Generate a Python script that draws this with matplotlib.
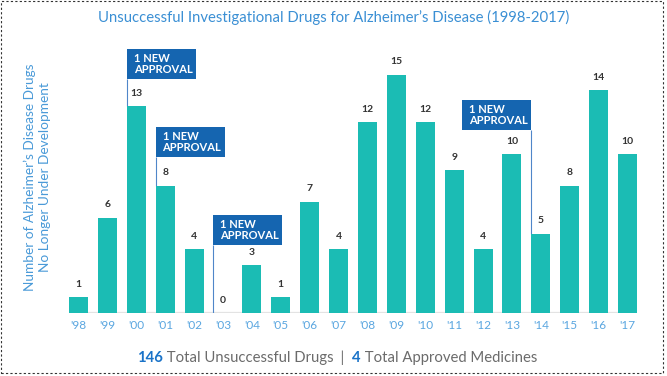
import matplotlib
matplotlib.use("Agg")
import matplotlib.pyplot as plt
from matplotlib.patches import Rectangle

years = ["'98", "'99", "'00", "'01", "'02", "'03", "'04", "'05", "'06", "'07",
         "'08", "'09", "'10", "'11", "'12", "'13", "'14", "'15", "'16", "'17"]
values = [1, 6, 13, 8, 4, 0, 3, 1, 7, 4, 12, 15, 12, 9, 4, 10, 5, 8, 14, 10]
# approval annotations: (bar index, box bottom, box top, side)
approvals = [(2, 14.7, 16.6, "left"), (3, 9.8, 11.7, "left"),
             (5, 4.3, 6.15, "left"), (16, 11.5, 13.4, "right")]
approval_text = "1 NEW\nAPPROVAL"
title = "Unsuccessful Investigational Drugs for Alzheimer\u2019s Disease (1998-2017)"
ylabel = "Number of Alzheimer\u2019s Disease Drugs\nNo Longer Under Development"
footer = [("146", "bold", "#1a73c8"), (" Total Unsuccessful Drugs", "normal", "#6b6b6b"),
          ("  |  ", "normal", "#6b6b6b"), ("4", "bold", "#1a73c8"),
          (" Total Approved Medicines", "normal", "#6b6b6b")]

plt.rcParams['font.family'] = ['Lato', 'DejaVu Sans']

W, H = 667, 376
fig = plt.figure(figsize=(W / 100, H / 100), dpi=100)
ax = fig.add_axes([64 / W, 63 / H, (642 - 64) / W, (313 - 40) / H])

bar_w = 0.66
teal = "#1bbcb4"
x = list(range(len(years)))
ax.bar(x, values, width=bar_w, color=teal, zorder=2)
ax.set_xlim(-0.5, len(years) - 0.5)
ax.set_ylim(0, 17.17)
ax.hlines(0, -bar_w / 2, len(years) - 1 + bar_w / 2, color="#e3e3e3", lw=1.6, zorder=1)

for xi, v in zip(x, values):
    ax.annotate(str(v), (xi, v), xytext=(0, 6), textcoords="offset points",
                ha="center", va="bottom", fontsize=7.5, fontweight="bold", color="#333333")

box_w = 2.39
for idx, y0, y1, side in approvals:
    lx = idx - bar_w / 2
    bx = lx if side == "left" else lx - box_w
    ax.vlines(lx, values[idx], y0, color="#4f86c9", lw=0.8, zorder=1)
    ax.add_patch(Rectangle((bx, y0), box_w, y1 - y0, facecolor="#1565b0",
                           edgecolor="none", zorder=3))
    ax.text(bx + 0.24, (y0 + y1) / 2, approval_text, color="white", fontsize=8,
            fontweight="bold", ha="left", va="center", linespacing=1.0, zorder=4)

ax.set_xticks(x)
ax.set_xticklabels(years, fontsize=8.5, color="#5aa6e0")
ax.tick_params(axis="x", length=0, pad=5)
ax.set_yticks([])
for s in ax.spines.values():
    s.set_visible(False)

fig.text(334 / W, 1 - 17 / H, title, ha="center", va="center", fontsize=10.7,
         color="#3a8fd4")
fig.text(37.5 / W, 1 - 177 / H, ylabel, ha="center", va="center", rotation=90,
         fontsize=9.8, color="#4a9ad8", linespacing=1.25)

# footer with mixed styles
renderer = fig.canvas.get_renderer()
texts = []
widths = []
for s, wgt, col in footer:
    t = fig.text(0, 1 - 358 / H, s, ha="left", va="center", fontsize=10.7,
                 fontweight=wgt, color=col)
    texts.append(t)
    widths.append(t.get_window_extent(renderer).width)
total = sum(widths)
cur = 337 - total / 2
for t, w in zip(texts, widths):
    t.set_x(cur / W)
    cur += w

fig.patches.append(Rectangle((0.002, 0.008), 0.992, 0.99, transform=fig.transFigure,
                             fill=False, edgecolor="#333333", lw=0.8, linestyle=(0, (2, 2))))

fig.savefig("out.png", dpi=100)
